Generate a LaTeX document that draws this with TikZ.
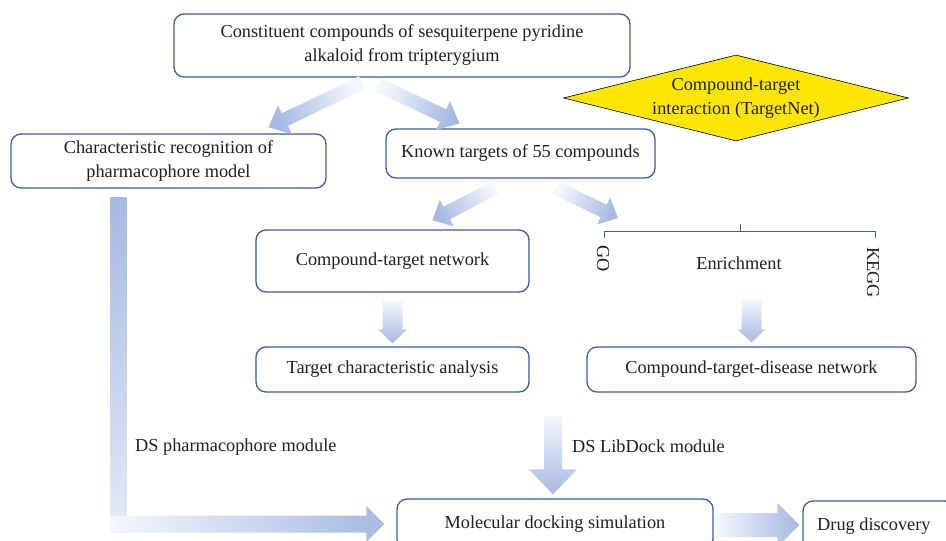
\documentclass[tikz,border=0pt]{standalone}
\usepackage{fontspec}
\setmainfont{Liberation Serif}
\usetikzlibrary{shapes.geometric,calc}
\definecolor{boxblue}{RGB}{62,92,160}
\definecolor{arrowblue}{RGB}{165,185,226}
\definecolor{arrowpale}{RGB}{244,247,252}
\definecolor{dyellow}{RGB}{255,230,0}
\definecolor{txt}{RGB}{35,31,32}
\newcommand{\blockarrow}[5]{%
  \coordinate (ba-s) at (#1);
  \coordinate (ba-e) at (#2);
  \coordinate (ba-n) at ($(ba-e)!#5!(ba-s)$);
  \path let \p1=(ba-s), \p2=(ba-e), \n1={atan2(\y2-\y1,\x2-\x1)} in
    \pgfextra{\pgfmathsetmacro{\tmpbaang}{\n1-90}\global\let\baangle\tmpbaang};
  \shade[top color=arrowblue, bottom color=arrowpale, shading angle=\baangle]
    ($(ba-s)!#3!90:(ba-e)$) -- ($(ba-n)!#3!90:(ba-e)$) -- ($(ba-n)!#4!90:(ba-e)$) -- (ba-e)
    -- ($(ba-n)!#4!-90:(ba-e)$) -- ($(ba-n)!#3!-90:(ba-e)$) -- ($(ba-s)!#3!-90:(ba-e)$) -- cycle;
}
\begin{document}
\begin{tikzpicture}[x=1pt,y=-1pt, font=\fontsize{18.3pt}{24pt}\selectfont, text=txt,
  box/.style={draw=boxblue, line width=1.3pt, rounded corners=10pt, fill=white, align=center, inner sep=0pt},
  lbl/.style={inner sep=0pt}]
\useasboundingbox (0,0) rectangle (946,541);
\clip (0,0) rectangle (946,541);

% boxes
\node[box, minimum width=456pt, minimum height=63pt] (top) at (402,45.5)
  {Constituent compounds of sesquiterpene pyridine\\alkaloid from tripterygium};
\node[diamond, draw=black, line width=0.6pt, fill=dyellow, inner sep=0pt, aspect=4,
  minimum width=345pt, minimum height=86pt, align=center] (ctint) at (736,98)
  {Compound-target\\interaction (TargetNet)};
\node[box, minimum width=315pt, minimum height=54pt] (char) at (168.5,161)
  {Characteristic recognition of\\pharmacophore model};
\node[box, minimum width=269pt, minimum height=49pt] (known) at (520.5,153.5)
  {Known targets of 55 compounds};
\node[box, minimum width=273pt, minimum height=62pt] (ctnet) at (392.5,261)
  {Compound-target network};
\node[box, minimum width=273pt, minimum height=45pt] (tca) at (392.5,369.5)
  {Target characteristic analysis};
\node[box, minimum width=329pt, minimum height=45pt] (ctd) at (751.5,369.5)
  {Compound-target-disease network};
\node[box, minimum width=316pt, minimum height=50pt] (dock) at (555,524)
  {Molecular docking simulation};
\node[box, minimum width=152pt, minimum height=50pt] (drug) at (879,526) {};
\node[lbl, anchor=west] (drugtxt) at (817,526) {Drug discovery};

% enrichment bracket
\coordinate (goL) at (604,231);
\coordinate (keggR) at (875,231);
\draw[boxblue, line width=0.9pt] ($(goL)+(0,7)$) -- (goL) -- (keggR) -- ($(keggR)+(0,7)$);
\draw[boxblue, line width=0.9pt] (740,231) -- (740,224);
\node[lbl, rotate=-90, anchor=west] (go) at (603,245) {GO};
\node[lbl, rotate=-90, anchor=west] (kegg) at (873,247) {KEGG};
\node[lbl] (enr) at (739,263) {Enrichment};

% block arrows
\blockarrow{$(top.south)+(-40,5)$}{$(char.north east)+(-58,-6)$}{7pt}{16pt}{18pt}
\blockarrow{$(top.south)+(-24,7)$}{$(known.north west)+(74,-5)$}{7pt}{16pt}{18pt}
\blockarrow{$(known.south)+(-25,9)$}{$(ctnet.north)+(40,-9)$}{7pt}{15pt}{16pt}
\blockarrow{$(known.south)+(35,9)$}{$(goL)+(14,-13)$}{7pt}{15pt}{16pt}
\blockarrow{$(ctnet.south)+(0,8)$}{$(tca.north)+(0,-3)$}{10pt}{14.5pt}{14pt}
\blockarrow{$(ctd.north)+(0,-47)$}{$(ctd.north)+(0,-4)$}{10pt}{14pt}{13pt}
\blockarrow{$(dock.north)+(-2,-82)$}{$(dock.north)+(-2,-4)$}{9pt}{24pt}{25pt}
\blockarrow{$(dock.east)+(2,1)$}{$(drug.west)+(-3,-1)$}{12pt}{22pt}{22pt}

% L-shaped arrow
\coordinate (Ls) at ($(char.south west)+(108,9)$);
\coordinate (Le) at ($(dock.west)+(-12,0)$);
\coordinate (Lc) at (Ls |- Le);
\shade[top color=arrowblue, bottom color=arrowblue!30!white]
  ($(Ls)+(-8,0)$) rectangle ($(Lc)+(8,8.5)$);
\shade[left color=arrowpale, right color=arrowblue]
  ($(Lc)+(-8,-8.5)$) -- ($(Le)+(-18,-8.5)$) -- ($(Le)+(-18,-18)$) -- (Le)
  -- ($(Le)+(-18,18)$) -- ($(Le)+(-18,8.5)$) -- ($(Lc)+(-8,8.5)$) -- cycle;

% labels
\node[lbl, anchor=west] (dsph) at (135,447) {DS pharmacophore module};
\node[lbl, anchor=west] (dslib) at (572,446) {DS LibDock module};
\end{tikzpicture}
\end{document}
